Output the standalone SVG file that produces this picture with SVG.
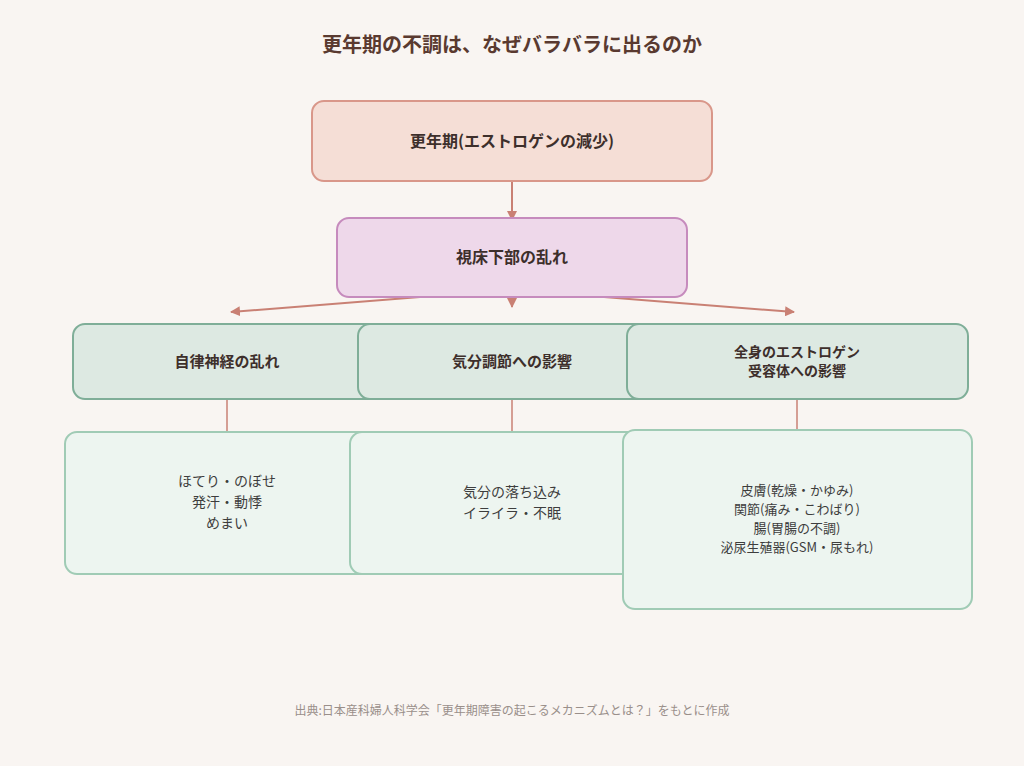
<svg xmlns="http://www.w3.org/2000/svg" width="1024" height="766" viewBox="0 0 1024 766">
<defs>
<marker id="ah" markerWidth="10" markerHeight="10" refX="9" refY="5" orient="auto" markerUnits="userSpaceOnUse">
<path d="M0,0 L10,5 L0,10 Z" fill="#c98074"/>
</marker>
<style>
text{font-family:"Noto Sans CJK JP","Noto Sans",sans-serif;text-anchor:middle;}
.title{font-size:20px;font-weight:700;fill:#5a3a30;}
.b{font-size:16px;font-weight:700;fill:#3d2f2b;}
.bm{font-size:15px;font-weight:700;fill:#3d2f2b;}
.bs{font-size:14px;font-weight:700;fill:#3d2f2b;}
.m{font-size:14px;fill:#3d3d3d;}
.s{font-size:13px;fill:#3d3d3d;}
.foot{font-size:12px;fill:#9a8f8a;}
.conn{stroke:#c98074;stroke-width:2;fill:none;}
.thin{stroke:#c98074;stroke-width:1.5;fill:none;}
.mid{fill:#dde9e2;stroke:#7fae98;stroke-width:2;}
.low{fill:#edf5f0;stroke:#a0cbb5;stroke-width:2;}
</style>
</defs>
<rect width="1024" height="766" fill="#f9f5f2"/>
<text class="title" x="512" y="52">更年期の不調は、なぜバラバラに出るのか</text>

<g id="connectors">
<line class="conn" x1="512" y1="181" x2="512" y2="220" marker-end="url(#ah)"/>
<line class="conn" x1="420" y1="297" x2="231" y2="312" marker-end="url(#ah)"/>
<line class="conn" x1="512" y1="297" x2="512" y2="307" marker-end="url(#ah)"/>
<line class="conn" x1="604" y1="297" x2="794" y2="312" marker-end="url(#ah)"/>
<line class="thin" x1="227" y1="399" x2="227" y2="432"/>
<line class="thin" x1="512" y1="399" x2="512" y2="432"/>
<line class="thin" x1="797" y1="399" x2="797" y2="430"/>
</g>

<g id="node-menopause">
<rect x="312" y="101" width="400" height="80" rx="12" fill="#f5ded6" stroke="#d9978a" stroke-width="2"/>
<text class="b" x="512" y="147">更年期(エストロゲンの減少)</text>
</g>
<g id="node-hypothalamus">
<rect x="337" y="218" width="350" height="79" rx="12" fill="#eed8ea" stroke="#c68bbd" stroke-width="2"/>
<text class="b" x="512" y="263">視床下部の乱れ</text>
</g>

<g id="node-autonomic">
<rect class="mid" x="73" y="324" width="308" height="75" rx="12"/>
<text class="bm" x="227" y="367">自律神経の乱れ</text>
</g>
<g id="node-mood">
<rect class="mid" x="358" y="324" width="308" height="75" rx="12"/>
<text class="bm" x="512" y="367">気分調節への影響</text>
</g>
<g id="node-receptor">
<rect class="mid" x="627" y="324" width="341" height="75" rx="12"/>
<text class="bs" x="797" y="357">全身のエストロゲン</text>
<text class="bs" x="797" y="376">受容体への影響</text>
</g>

<g id="node-sym1">
<rect class="low" x="65" y="432" width="324" height="142" rx="12"/>
<text class="m" x="227" y="486">ほてり・のぼせ</text>
<text class="m" x="227" y="507">発汗・動悸</text>
<text class="m" x="227" y="528">めまい</text>
</g>
<g id="node-sym2">
<rect class="low" x="350" y="432" width="324" height="142" rx="12"/>
<text class="m" x="512" y="497">気分の落ち込み</text>
<text class="m" x="512" y="518">イライラ・不眠</text>
</g>
<g id="node-sym3">
<rect class="low" x="623" y="430" width="349" height="179" rx="12"/>
<text class="s" x="797" y="495">皮膚(乾燥・かゆみ)</text>
<text class="s" x="797" y="514">関節(痛み・こわばり)</text>
<text class="s" x="797" y="533">腸(胃腸の不調)</text>
<text class="s" x="797" y="552">泌尿生殖器(GSM・尿もれ)</text>
</g>

<text class="foot" x="512" y="715">出典:日本産科婦人科学会「更年期障害の起こるメカニズムとは？」をもとに作成</text>
</svg>
